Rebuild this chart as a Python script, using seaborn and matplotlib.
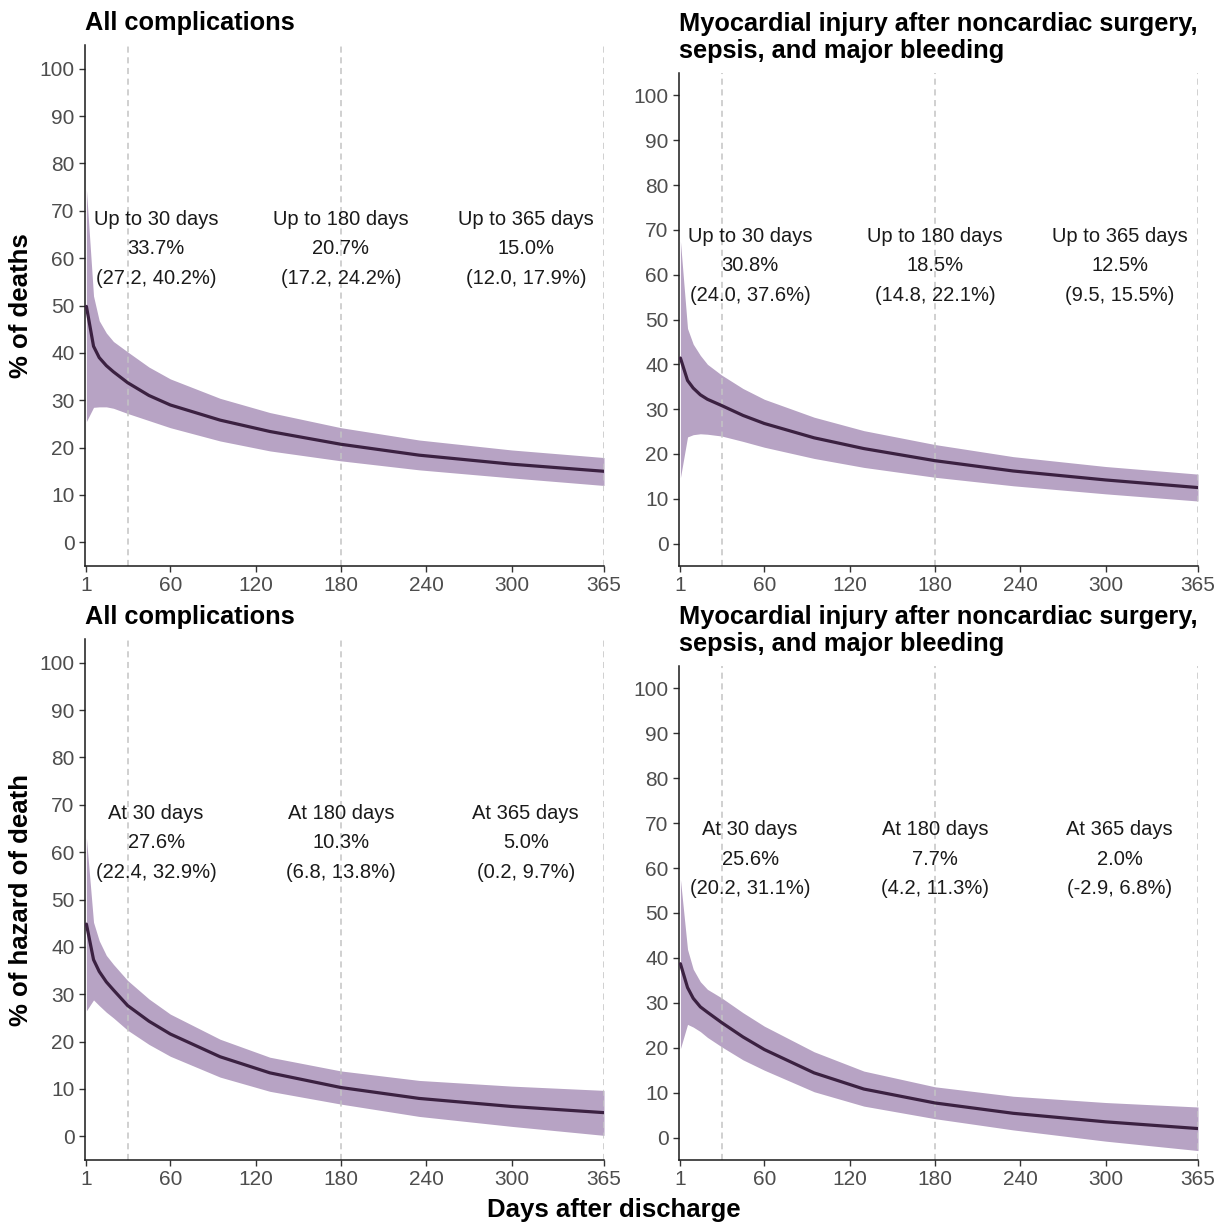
import numpy as np
import pandas as pd
import matplotlib
matplotlib.use("Agg")
import matplotlib.pyplot as plt
import seaborn as sns

# ---------------- data ----------------
days = [1, 6, 10, 15, 20, 30, 45, 60, 95, 130, 180, 235, 300, 365]

# Panel A: % of deaths, all complications
a_est = [49.8, 41.4, 39.0, 37.3, 36.0, 33.7, 31.0, 29.0, 25.8, 23.4, 20.7, 18.4, 16.5, 15.0]
a_hi = [74.5, 52.0, 46.8, 44.2, 42.4, 40.2, 37.0, 34.5, 30.4, 27.4, 24.2, 21.6, 19.5, 17.9]
a_lo = [25.5, 28.5, 28.6, 28.6, 28.3, 27.2, 25.7, 24.2, 21.4, 19.3, 17.2, 15.3, 13.6, 12.0]

# Panel B: % of deaths, MINS + sepsis + major bleeding
b_est = [41.4, 36.4, 34.7, 33.2, 32.2, 30.8, 28.6, 26.8, 23.6, 21.2, 18.5, 16.2, 14.2, 12.5]
b_hi = [67.5, 48.0, 44.5, 42.0, 40.0, 37.6, 34.6, 32.2, 28.2, 25.2, 22.1, 19.4, 17.2, 15.5]
b_lo = [14.7, 23.8, 24.3, 24.5, 24.4, 24.0, 22.8, 21.5, 19.0, 17.0, 14.8, 12.9, 11.1, 9.5]

# Panel C: % of hazard of death, all complications
c_est = [44.8, 37.3, 34.8, 32.6, 30.9, 27.6, 24.3, 21.6, 16.8, 13.4, 10.3, 8.0, 6.3, 5.0]
c_hi = [63.0, 45.2, 41.3, 38.2, 36.3, 32.9, 29.0, 25.8, 20.5, 16.7, 13.8, 11.8, 10.6, 9.7]
c_lo = [26.5, 28.8, 27.6, 26.2, 25.0, 22.4, 19.4, 16.9, 12.5, 9.5, 6.8, 4.2, 2.1, 0.2]

# Panel D: % of hazard of death, MINS + sepsis + major bleeding
d_est = [38.7, 33.4, 31.0, 29.1, 27.9, 25.6, 22.4, 19.6, 14.4, 10.8, 7.7, 5.4, 3.5, 2.0]
d_hi = [57.5, 41.9, 37.5, 34.7, 33.0, 31.1, 27.8, 24.8, 19.1, 14.8, 11.3, 9.2, 7.8, 6.8]
d_lo = [19.8, 25.2, 24.6, 23.6, 22.3, 20.2, 17.3, 15.0, 10.2, 7.0, 4.2, 1.7, -0.8, -2.9]

titles = ["All complications",
          "Myocardial injury after noncardiac surgery,\nsepsis, and major bleeding",
          "All complications",
          "Myocardial injury after noncardiac surgery,\nsepsis, and major bleeding"]
ylabels = ["% of deaths", None, "% of hazard of death", None]

label_days = [30, 180, 365]
label_x = [50, 180, 310]
top_labels = ["Up to 30 days", "Up to 180 days", "Up to 365 days"]
bottom_labels = ["At 30 days", "At 180 days", "At 365 days"]
a_txt = ["33.7%\n(27.2, 40.2%)", "20.7%\n(17.2, 24.2%)", "15.0%\n(12.0, 17.9%)"]
b_txt = ["30.8%\n(24.0, 37.6%)", "18.5%\n(14.8, 22.1%)", "12.5%\n(9.5, 15.5%)"]
c_txt = ["27.6%\n(22.4, 32.9%)", "10.3%\n(6.8, 13.8%)", "5.0%\n(0.2, 9.7%)"]
d_txt = ["25.6%\n(20.2, 31.1%)", "7.7%\n(4.2, 11.3%)", "2.0%\n(-2.9, 6.8%)"]

x_ticks = [1, 60, 120, 180, 240, 300, 365]
y_ticks = list(range(0, 101, 10))

# ---------------- style ----------------
sns.set_style("ticks")
plt.rcParams['font.family'] = ['Liberation Sans', 'DejaVu Sans']

RIBBON = "#B7A3C4"
LINE = "#3B2141"
TICKC = "#4D4D4D"

W, H = 1225, 1223
fig = plt.figure(figsize=(W / 100, H / 100), dpi=100)

# pixel boxes: left, right, top, bottom
boxes = [(85, 604, 45, 566), (679, 1198, 73, 566),
         (85, 604, 639, 1160), (679, 1198, 666, 1160)]

series = [(a_est, a_lo, a_hi, top_labels, a_txt),
          (b_est, b_lo, b_hi, top_labels, b_txt),
          (c_est, c_lo, c_hi, bottom_labels, c_txt),
          (d_est, d_lo, d_hi, bottom_labels, d_txt)]

for i, (box, (est, lo, hi, heads, txts)) in enumerate(zip(boxes, series)):
    l, r, t, b = box
    ax = fig.add_axes([l / W, 1 - b / H, (r - l) / W, (b - t) / H])
    df = pd.DataFrame({"day": days, "est": est, "lo": lo, "hi": hi})
    ax.fill_between(df["day"], df["lo"], df["hi"], color=RIBBON, linewidth=0, zorder=1)
    for d in label_days:
        ax.axvline(d, color="#C4C4C4", linestyle=(0, (4, 3)), linewidth=1.1, zorder=2)
    sns.lineplot(data=df, x="day", y="est", ax=ax, color=LINE, linewidth=2.3, zorder=3)
    for xpos, head, txt in zip(label_x, heads, txts):
        ax.text(xpos, 62, head + "\n" + txt, ha="center", va="center",
                fontsize=14.5, color="#1A1A1A", linespacing=1.7, zorder=4)
    ax.set_xlim(0, 365)
    ax.set_ylim(-5, 105)
    ax.set_xticks(x_ticks)
    ax.set_yticks(y_ticks)
    ax.tick_params(axis="both", labelsize=15, labelcolor=TICKC, color="#333333",
                   length=4.5, width=1, direction="out", pad=3)
    sns.despine(ax=ax)
    for s in ["left", "bottom"]:
        ax.spines[s].set_color("#1A1A1A")
        ax.spines[s].set_linewidth(1.1)
    ax.set_xlabel("")
    if ylabels[i]:
        ax.set_ylabel(ylabels[i], fontsize=18.5, fontweight="bold", color="black")
        ax.yaxis.label.set_va("center")
        ax.yaxis.set_label_coords((21 - l) / (r - l), 0.5)
    else:
        ax.set_ylabel("")
    ttl = ax.set_title(titles[i], loc="left", fontsize=18.3, fontweight="bold",
                       color="black", pad=11)
    ttl.set_linespacing(1.15)

fig.text(614 / W, 1 - 1210 / H, "Days after discharge", ha="center", va="center",
         fontsize=18.5, fontweight="bold", color="black")

fig.savefig("out.png", dpi=100, facecolor="white")
